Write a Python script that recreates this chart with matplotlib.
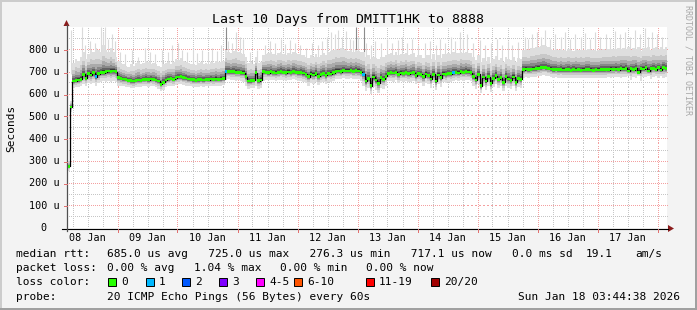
import numpy as np
import matplotlib
matplotlib.use("Agg")
import matplotlib.pyplot as plt
from matplotlib.patches import Polygon, Rectangle
from matplotlib.lines import Line2D

plt.rcParams['font.family'] = ['DejaVu Sans Mono']

W, H = 697, 310

# ---------------- data (hourly, hour 0 = Jan 08 04:00), values in microseconds ----------------
median_a = [276.3, 544, 660, 662, 665, 668, 690, 672, 695, 688, 698, 680, 694, 700, 698, 703, 705, 704, 706, 703]
median_b = [675, 672, 670, 668, 664, 662, 660, 663, 665, 664, 667, 668, 666, 670, 668, 665, 660, 645, 655, 665,
            670, 672, 668, 676, 678, 680, 676, 674, 670, 668, 666, 664, 666, 667, 665, 668, 667, 669, 668, 670,
            668, 670, 671]
median_c = [704, 703, 702, 702, 700, 700, 698, 697, 680, 660, 662, 664, 698, 662, 665]
median_d = [702, 700, 698, 702, 699, 697, 700, 703, 700, 698, 701, 699, 703, 700, 698, 700, 696, 690, 680, 692,
            688, 694, 682, 690, 694, 686, 695, 692, 698, 704, 706, 703, 708, 705, 706, 708, 704, 707, 705, 700]
median_e = [690, 660, 672, 640, 678, 665, 650, 675, 668, 682]
median_f = [695, 698, 696, 700, 690, 697, 695, 699, 693, 696, 698, 685, 694, 690, 680, 692]
median_g = [686, 670, 690, 660, 688, 675, 692, 690, 695, 693, 698, 700, 697, 702, 700, 703, 701, 698]
median_h = [680, 665, 690, 640, 678, 660, 680, 650, 672, 685, 668, 676, 655, 680, 670, 664, 678, 655, 672, 668]
median_i = [712, 714, 712, 713, 715, 716, 718, 720, 722, 721, 718, 714, 712, 713, 711, 712, 710, 712, 711, 709,
            712, 710, 711, 709, 710, 712, 711, 710, 709, 711, 710, 712, 711, 713, 712, 714, 713, 715, 712, 716,
            714, 718, 705, 716, 712, 718, 700, 716, 714, 720, 706, 716, 718, 712, 720, 710, 722, 717.1]

hi_a = [300, 570, 740, 760, 750, 770, 790, 760, 780, 800, 790, 810, 800, 790, 820, 800, 790, 810, 790, 770]
hi_b = [750, 740, 735, 730, 725, 735, 730, 740, 745, 735, 740, 750, 745, 738, 742, 735, 730, 725, 735, 740,
        745, 738, 745, 760, 755, 765, 750, 745, 740, 735, 738, 732, 740, 745, 735, 740, 738, 745, 742, 750,
        745, 748, 750]
hi_c = [800, 790, 785, 795, 800, 790, 785, 780, 770, 740, 745, 738, 770, 742, 748]
hi_d = [775, 780, 785, 790, 780, 775, 785, 790, 780, 778, 785, 780, 790, 785, 780, 778, 775, 770, 765, 775,
        770, 780, 770, 775, 785, 775, 790, 795, 800, 805, 800, 810, 805, 800, 795, 800, 790, 800, 795, 790]
hi_e = [790, 770, 775, 760, 770, 765, 760, 770, 768, 775]
hi_f = [780, 785, 778, 790, 775, 782, 780, 788, 776, 780, 785, 770, 778, 775, 765, 778]
hi_g = [775, 760, 780, 755, 778, 765, 782, 780, 785, 783, 790, 788, 785, 792, 788, 790, 787, 784]
hi_h = [770, 755, 775, 745, 765, 750, 770, 740, 760, 772, 755, 765, 748, 770, 760, 755, 768, 745, 762, 758]
hi_i = [800, 805, 798, 810, 808, 812, 815, 818, 820, 816, 812, 806, 800, 804, 798, 802, 800, 796, 803, 800,
        797, 802, 799, 801, 798, 800, 803, 800, 798, 796, 800, 798, 802, 800, 805, 803, 806, 804, 808, 805,
        810, 806, 812, 800, 810, 806, 812, 795, 810, 808, 815, 798, 810, 812, 806, 815, 804, 812]

lo_a = [255, 520, 630, 632, 635, 640, 645, 640, 650, 645, 650, 640, 650, 655, 660, 655, 660, 658, 660, 655]
lo_b = [640, 638, 636, 635, 632, 630, 628, 632, 634, 633, 636, 637, 635, 638, 636, 632, 625, 615, 622, 632,
        638, 640, 636, 642, 645, 646, 642, 640, 638, 636, 635, 633, 634, 636, 634, 637, 636, 638, 637, 640,
        638, 640, 641]
lo_c = [665, 668, 666, 664, 662, 664, 660, 658, 640, 625, 628, 630, 640, 626, 630]
lo_d = [662, 665, 664, 666, 663, 660, 664, 667, 665, 662, 665, 664, 668, 665, 662, 660, 655, 650, 640, 652,
        648, 655, 642, 650, 655, 645, 658, 655, 662, 668, 670, 668, 672, 670, 670, 672, 668, 670, 668, 662]
lo_e = [640, 615, 630, 600, 632, 620, 605, 630, 625, 640]
lo_f = [660, 662, 658, 664, 650, 660, 658, 662, 655, 658, 660, 645, 655, 650, 638, 652]
lo_g = [645, 630, 650, 620, 648, 635, 655, 652, 658, 656, 662, 664, 660, 665, 662, 666, 663, 660]
lo_h = [640, 625, 648, 605, 638, 620, 640, 612, 632, 645, 628, 636, 615, 640, 630, 624, 638, 615, 632, 628]
lo_i = [676, 678, 676, 677, 680, 680, 682, 684, 686, 685, 682, 678, 676, 677, 675, 676, 675, 674, 676, 675,
        673, 676, 674, 675, 673, 674, 676, 675, 674, 673, 675, 674, 676, 675, 677, 676, 678, 677, 679, 676,
        680, 678, 682, 665, 680, 676, 682, 660, 680, 678, 684, 668, 680, 682, 676, 684, 674, 680]

# single-ping outliers (hour, value)
peak_hours = [1.5, 5.8, 7, 9, 11, 13.6, 14.5, 15.3, 16.5, 18, 19,
              21, 23, 26, 28.5, 31, 33, 35, 38, 40.5, 42, 44.5, 46, 48, 50.5, 52, 54, 56.5, 58, 60, 61.5,
              64.5, 66, 67.5, 69, 70.2, 73, 76, 79, 81, 83, 85.5, 87, 89, 91, 93, 95.5, 98, 100.5, 102, 104,
              105.5, 107, 108.5, 110, 111.5, 113, 114.5, 116.5,
              119.5, 121.5, 123, 125.5, 128, 130, 132.5, 134, 136, 138, 140.5, 143, 145, 147.5, 149, 151,
              153.5, 155, 157, 158.5, 160, 162.5, 165, 167, 169.5, 172, 174, 176.5, 178, 180.5,
              183, 184.5, 186, 188, 189.5, 191, 193, 195, 197.5, 199, 201, 203, 205.5, 207, 209, 211, 213,
              215.5, 217, 219, 221, 223, 225, 227, 229, 231, 232.5, 234, 236, 238]
peak_vals = [890, 903, 820, 840, 830, 903, 880, 903, 850, 870, 840,
             790, 780, 800, 770, 810, 790, 780, 800, 790, 820, 830, 800, 790, 810, 785, 800, 790, 810, 795, 820,
             840, 830, 880, 860, 850, 790, 800, 820, 840, 830, 850, 825, 845, 830, 820, 810, 830, 820, 840, 860,
             880, 870, 890, 860, 885, 850, 845, 860,
             830, 820, 840, 830, 850, 830, 845, 860, 830, 850, 820, 830, 840, 820, 850, 830,
             860, 840, 880, 850, 870, 830, 845, 820, 830, 850, 820, 840, 820, 835,
             860, 850, 870, 880, 860, 890, 850, 870, 860, 880, 850, 870, 860, 875, 850, 880, 860,
             870, 855, 885, 870, 880, 860, 890, 870, 900, 860, 880, 870, 860]
dark_peak_hours = [63.4, 115.5, 118.6]
dark_peak_vals = [903, 903, 903]
loss1_hours = [11, 63, 118, 154]

day_labels = ["08 Jan", "09 Jan", "10 Jan", "11 Jan", "12 Jan", "13 Jan", "14 Jan", "15 Jan", "16 Jan", "17 Jan"]
y_ticks = [0, 100, 200, 300, 400, 500, 600, 700, 800]

median = np.array(median_a + median_b + median_c + median_d + median_e + median_f + median_g + median_h + median_i, float)
hi = np.array(hi_a + hi_b + hi_c + hi_d + hi_e + hi_f + hi_g + hi_h + hi_i, float)
lo = np.array(lo_a + lo_b + lo_c + lo_d + lo_e + lo_f + lo_g + lo_h + lo_i, float)
N = len(median)

# ---------------- figure ----------------
def fx(px):
    return px / W

def fy(py):
    return 1 - py / H

BG = '#f3f3f3'
fig = plt.figure(figsize=(W / 100, H / 100), dpi=100, facecolor=BG)

PL, PR, PT, PB = 67, 667, 27, 228
XMAX = 240
YMAX = 903
ax = fig.add_axes([fx(PL), fy(PB), (PR - PL) / W, (PB - PT) / H])
ax.set_facecolor('white')
for s in ax.spines.values():
    s.set_visible(False)
ax.set_xticks([])
ax.set_yticks([])
ax.set_xlim(0, XMAX)
ax.set_ylim(0, YMAX)

def vpix(v):
    return PB - v * (PB - PT) / YMAX

def hpix(h):
    return PL + h * (PR - PL) / XMAX

# dotted grid drawn as single pixels (1 on / 1 off)
def hgrid_pts(v):
    row = np.floor(vpix(v)) + 0.5
    xs = np.arange(PL + 1, PR, 2) + 0.5
    return fx(xs), fy(np.full_like(xs, row))

def vgrid_pts(h):
    col = np.floor(hpix(h)) + 0.5
    ys = np.arange(PT + 1, PB, 2) + 0.5
    return fx(np.full_like(ys, col)), fy(ys)

MINOR = '#c6c6c6'
MAJOR = '#f4a0a0'
midnights = list(range(20, 240, 24))
mx, my = [], []
for v in range(50, 900, 100):
    a, b = hgrid_pts(v); mx.append(a); my.append(b)
for hh in range(2, 240, 6):
    if (hh - 20) % 24 != 0:
        a, b = vgrid_pts(hh); mx.append(a); my.append(b)
ax.plot(np.concatenate(mx), np.concatenate(my), ',', color=MINOR, transform=fig.transFigure, zorder=0.5)
Mx, My = [], []
for v in range(100, 900, 100):
    a, b = hgrid_pts(v); Mx.append(a); My.append(b)
for hh in midnights:
    a, b = vgrid_pts(hh); Mx.append(a); My.append(b)
ax.plot(np.concatenate(Mx), np.concatenate(My), ',', color=MAJOR, transform=fig.transFigure, zorder=0.6)

t = np.arange(N + 1)
med_e = np.append(median, median[-1])
hi_e = np.append(hi, hi[-1])
lo_e = np.append(lo, lo[-1])

# outliers
ax.vlines(peak_hours, 690, peak_vals, color='#dadada', lw=0.8, zorder=1.5)
ax.vlines(dark_peak_hours, 700, dark_peak_vals, color='#8c8c8c', lw=0.8, zorder=1.6)

# smoke
fracs = [1.0, 0.62, 0.42, 0.27, 0.16, 0.08]
shades = ['#dedede', '#c8c8c8', '#aaaaaa', '#888888', '#626262', '#383838']
for f, c in zip(fracs, shades):
    ax.fill_between(t, med_e - f * (med_e - lo_e), med_e + f * (hi_e - med_e),
                    step='post', color=c, lw=0, antialiased=False, zorder=2)

# median
ax.step(t, med_e, where='post', color='black', lw=0.9, zorder=3)
g = 6.0
ax.fill_between(t, med_e - g, med_e + g, step='post', color='#26ff00', lw=0, antialiased=False, zorder=4)
for hh in loss1_hours:
    ax.fill_between([hh, hh + 1], [median[hh] - g] * 2, [median[hh] + g] * 2,
                    color='#00b8ff', lw=0, antialiased=False, zorder=5)

# axes lines and arrows
fig.add_artist(Line2D([fx(62), fx(668)], [fy(228.5), fy(228.5)], color='black', lw=0.8))
fig.add_artist(Line2D([fx(66.5), fx(66.5)], [fy(231), fy(25)], color='#505050', lw=0.9))
ARR = '#8b1c1c'
fig.add_artist(Polygon([(fx(668), fy(225)), (fx(674), fy(228.5)), (fx(668), fy(232))],
                       closed=True, color=ARR, lw=0))
fig.add_artist(Polygon([(fx(63.5), fy(26)), (fx(66.5), fy(20)), (fx(69.5), fy(26))],
                       closed=True, color=ARR, lw=0))
for hh in midnights:
    px = np.floor(hpix(hh)) + 0.5
    fig.add_artist(Line2D([fx(px), fx(px)], [fy(228.5), fy(231.5)], color='#e07070', lw=0.72))
for v in y_ticks[1:]:
    py = np.floor(vpix(v)) + 0.5
    fig.add_artist(Line2D([fx(64), fx(66.5)], [fy(py), fy(py)], color='#e07070', lw=0.72))

# tick labels
TF = 7.3
for v in y_ticks:
    lab = f"{v} u" if v else "0  "
    fig.text(fx(59.5), fy(vpix(v)), lab, ha='right', va='center', fontsize=TF)
for k, lab in enumerate(day_labels):
    fig.text(fx(hpix(8 + 24 * k)), fy(238), lab, ha='center', va='center', fontsize=TF)

fig.text(fx(348), fy(19.5), "Last 10 Days from DMITT1HK to 8888", ha='center', va='center', fontsize=9.5)
fig.text(fx(11), fy(128), "Seconds", rotation=90, ha='center', va='center', fontsize=8)
fig.text(fx(688), fy(60), "RRDTOOL / TOBI OETIKER", rotation=270, ha='center', va='center',
         fontsize=6, color='#a8a8a8')

# legend
LF = 7.97
def txt(x, y, s):
    fig.text(fx(x), fy(y), s, ha='left', va='center', fontsize=LF)

y1, y2, y3, y4 = 254, 268, 282, 296.5
txt(16, y1, "median rtt:")
txt(107.3, y1, "685.0 us avg   725.0 us max   276.3 us min   717.1 us now   0.0 ms sd")
txt(586, y1, "19.1")
txt(635, y1, "am/s")

txt(16, y2, "packet loss:")
txt(107.3, y2, "0.00 % avg")
txt(194, y2, "1.04 % max")
txt(280.5, y2, "0.00 % min")
txt(366, y2, "0.00 % now")

txt(16, y3, "loss color:")
loss_labels = ["0", "1", "2", "3", "4-5", "6-10", "11-19", "20/20"]
loss_colors = ['#26ff00', '#00b8ff', '#0059ff', '#7e00ff', '#ff00ff', '#ff5500', '#ff0000', '#a10000']
loss_box_x = [108.3, 145.7, 182.3, 219, 256.3, 294, 365.7, 431]
for lab, col, bx in zip(loss_labels, loss_colors, loss_box_x):
    fig.add_artist(Rectangle((fx(bx), fy(y3 + 4)), 8 / W, 8 / H, facecolor=col,
                             edgecolor='black', lw=0.7))
    txt(bx + 13, y3, lab)

txt(16, y4, "probe:")
txt(107.3, y4, "20 ICMP Echo Pings (56 Bytes) every 60s")
fig.text(fx(680), fy(y4), "Sun Jan 18 03:44:38 2026", ha='right', va='center', fontsize=LF)

# outer frame
fig.add_artist(Line2D([0, 1], [fy(1), fy(1)], color='#cccccc', lw=1.44))
fig.add_artist(Line2D([fx(1), fx(1)], [0, 1], color='#cccccc', lw=1.44))
fig.add_artist(Line2D([0, 1], [fy(309), fy(309)], color='#a0a0a0', lw=1.44))
fig.add_artist(Line2D([fx(696), fx(696)], [0, 1], color='#a0a0a0', lw=1.44))

fig.savefig('out.png', dpi=100, facecolor=BG)
